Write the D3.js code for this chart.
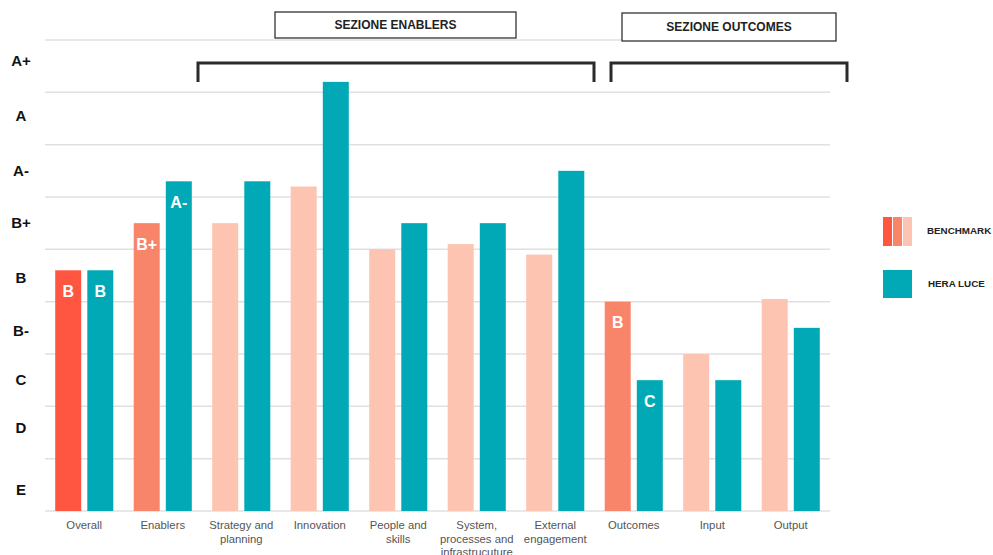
<!DOCTYPE html>
<html><head><meta charset="utf-8">
<script src="https://cdn.jsdelivr.net/npm/d3@7"></script>
<style>body{margin:0;background:#fff}svg{display:block}text{font-family:"Liberation Sans",Arial,sans-serif}</style>
</head><body><svg id="c" width="993" height="555"></svg>
<script>
const categories = ["Overall","Enablers","Strategy and\nplanning","Innovation","People and\nskills","System,\nprocesses and\ninfrastrucuture","External\nengagement","Outcomes","Input","Output"];
const benchmark = [4.6,5.5,5.5,6.2,5.0,5.1,4.9,4.0,3.0,4.05];
const heraLuce  = [4.6,6.3,6.3,8.2,5.5,5.5,6.5,2.5,2.5,3.5];
const benchTone = ["dark","mid","light","light","light","light","light","mid","light","light"];
const benchLabels = ["B","B+","","","","","","B","",""];
const heraLabels  = ["B","A-","","","","","","C","",""];
const gradeLabels = ["E","D","C","B-","B","B+","A-","A","A+"];
const gradePos    = [0.4,1.6,2.5,3.45,4.45,5.5,6.5,7.55,8.6];
const gridValues  = [0,1,2,3,4,5,6,7,8,9];
const seriesNames = ["BENCHMARK","HERA LUCE"];
const sections = [{name:"SEZIONE ENABLERS",from:2,to:6},{name:"SEZIONE OUTCOMES",from:7,to:9}];

const colors = {dark:"#ff5641",mid:"#f88469",light:"#fdc4b2",hera:"#00a9b5"};
const svg = d3.select("#c");
const x0 = d3.scaleBand().domain(d3.range(categories.length)).range([45,830]).paddingInner(0.26).paddingOuter(0.13);
const x1 = d3.scaleBand().domain([0,1]).range([0,x0.bandwidth()]).paddingInner(0.19);
const y = d3.scaleLinear().domain([0,9]).range([511,40]);

// grid
svg.append("g").selectAll("line").data(gridValues).join("line")
  .attr("x1",45).attr("x2",830).attr("y1",d=>y(d)).attr("y2",d=>y(d))
  .attr("stroke","#e0e0e0").attr("stroke-width",1.5);

// y grade labels
svg.append("g").selectAll("text").data(gradeLabels).join("text")
  .attr("x",21).attr("y",(d,i)=>y(gradePos[i])).attr("dy","0.35em")
  .attr("text-anchor","middle").attr("font-weight","bold").attr("font-size",15).attr("fill","#111")
  .text(d=>d);

// bars
const g = svg.append("g");
categories.forEach((c,i)=>{
  const vals=[benchmark[i],heraLuce[i]];
  vals.forEach((v,j)=>{
    const xx=x0(i)+x1(j);
    g.append("rect").attr("x",xx).attr("y",y(v)).attr("width",x1.bandwidth()).attr("height",y(0)-y(v))
      .attr("fill", j===0?colors[benchTone[i]]:colors.hera);
    const lab = j===0?benchLabels[i]:heraLabels[i];
    if(lab) g.append("text").attr("x",xx+x1.bandwidth()/2).attr("y",y(v)+21).attr("dy","0.35em")
      .attr("text-anchor","middle").attr("fill","#fff").attr("font-weight","bold").attr("font-size",16).text(lab);
  });
  const lines=c.split("\n");
  const t=svg.append("text").attr("x",x0(i)+x0.bandwidth()/2).attr("y",529).attr("text-anchor","middle")
    .attr("font-size",11.3).attr("fill","#555");
  lines.forEach((l,k)=>t.append("tspan").attr("x",x0(i)+x0.bandwidth()/2).attr("dy",k?13.5:0).text(l));
});

// section boxes and brackets
const boxes=[{x:275,y:12,w:241,h:26},{x:622,y:13,w:214,h:28}];
const brackets=[{x1:198,x2:594},{x1:611,x2:847}];
sections.forEach((s,i)=>{
  const b=boxes[i];
  svg.append("rect").attr("x",b.x).attr("y",b.y).attr("width",b.w).attr("height",b.h)
    .attr("fill","#fff").attr("stroke","#222").attr("stroke-width",1.2);
  svg.append("text").attr("x",b.x+b.w/2).attr("y",b.y+b.h/2).attr("dy","0.35em").attr("text-anchor","middle")
    .attr("font-weight","bold").attr("font-size",12).attr("fill","#222").text(s.name);
  const k=brackets[i];
  svg.append("path").attr("d",`M${k.x1},82V63H${k.x2}V82`).attr("fill","none").attr("stroke","#2b2b2b").attr("stroke-width",3);
});

// legend
const lg=svg.append("g");
const stripeCols=[colors.dark,colors.mid,colors.light];
stripeCols.forEach((c,i)=>lg.append("rect").attr("x",883+i*10).attr("y",217).attr("width",9).attr("height",29).attr("fill",c));
lg.append("rect").attr("x",883).attr("y",270).attr("width",29).attr("height",28).attr("fill",colors.hera);
lg.append("text").attr("x",927).attr("y",231).attr("dy","0.35em").attr("font-weight","bold").attr("font-size",9.8).attr("fill","#222").text(seriesNames[0]);
lg.append("text").attr("x",928).attr("y",284).attr("dy","0.35em").attr("font-weight","bold").attr("font-size",9.8).attr("fill","#222").text(seriesNames[1]);
</script></body></html>
